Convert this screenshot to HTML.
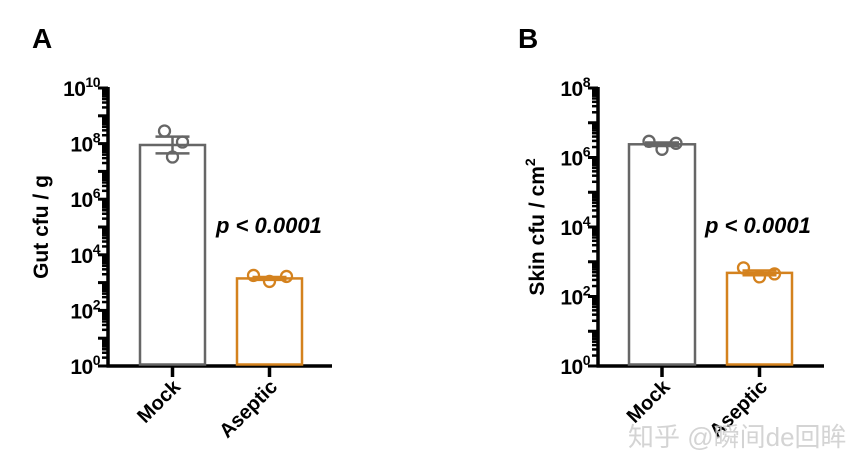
<!DOCTYPE html>
<html><head><meta charset="utf-8"><style>
html,body{margin:0;padding:0;background:#fff;}
svg{display:block;font-family:"Liberation Sans",Arial,sans-serif;}
</style></head><body>
<svg id="s" width="865" height="468" viewBox="0 0 865 468" xmlns="http://www.w3.org/2000/svg">
<text x="32" y="48" font-size="28" font-weight="bold">A</text>
<text x="518" y="48" font-size="28" font-weight="bold">B</text>
<g id="A"></g><g id="B"></g>
<text x="628" y="446" font-size="26" fill="#ccc" fill-opacity="0.85" font-family="'Liberation Sans','Noto Sans CJK SC',sans-serif">知乎 @瞬间de回眸</text>
</svg>
<script>
const NS="http://www.w3.org/2000/svg";
function el(p,t,a,txt){const e=document.createElementNS(NS,t);for(const k in a)e.setAttribute(k,a[k]);if(txt!==undefined)e.textContent=txt;p.appendChild(e);return e;}
function panel(g,ax,top,bot,nd,step,xEnd,title,tx,bars,pLab){
  const dec=(bot-top)/nd;
  el(g,'line',{x1:ax,y1:top-1,x2:ax,y2:bot+1.5,stroke:'#000','stroke-width':3.5});
  el(g,'line',{x1:ax-1.5,y1:bot,x2:xEnd,y2:bot,stroke:'#000','stroke-width':3.5});
  for(let d=0;d<nd;d++){
    const y0=bot-d*dec;
    for(let k=2;k<=9;k++){const y=y0-Math.log10(k)*dec;el(g,'line',{x1:ax-6,y1:y,x2:ax,y2:y,stroke:'#000','stroke-width':2.5});}
  }
  for(let d=0;d<=nd;d++){
    const y=bot-d*dec;
    el(g,'line',{x1:ax-10,y1:y,x2:ax,y2:y,stroke:'#000','stroke-width':3});
    if(d%step===0){
      const t=el(g,'text',{x:ax-8,y:y+8,'text-anchor':'end','font-size':21,'font-weight':'bold','letter-spacing':'-0.5'});
      el(t,'tspan',{},'10');
      el(t,'tspan',{dy:-9,'font-size':14},String(d));
    }
  }
  const ty=(top+bot)/2;
  const t=el(g,'text',{x:tx,y:ty,transform:`rotate(-90 ${tx} ${ty})`,'text-anchor':'middle','font-size':21,'font-weight':'bold'},'');
  el(t,'tspan',{},title[0]); if(title[1]){el(t,'tspan',{dy:-9,'font-size':14},title[1]);}
  bars.forEach(b=>{
    const yb=bot-b.v*dec;
    el(g,'rect',{x:b.x1,y:yb,width:b.x2-b.x1,height:bot-yb-1.5,fill:'#fff',stroke:b.c,'stroke-width':2.5});
    const cx=(b.x1+b.x2)/2;
    el(g,'line',{x1:cx,y1:bot,x2:cx,y2:bot+11,stroke:'#000','stroke-width':3.5});
    const eh=b.e*dec;
    el(g,'line',{x1:cx,y1:yb-eh,x2:cx,y2:yb+eh,stroke:b.c,'stroke-width':2.5});
    el(g,'line',{x1:cx-17,y1:yb-eh,x2:cx+17,y2:yb-eh,stroke:b.c,'stroke-width':2.5});
    el(g,'line',{x1:cx-17,y1:yb+eh,x2:cx+17,y2:yb+eh,stroke:b.c,'stroke-width':2.5});
    b.pts.forEach(p=>el(g,'circle',{cx:cx+p[0],cy:yb+p[1],r:5.5,fill:'none',stroke:b.c,'stroke-width':2.3}));
    const lx=cx+4,ly=bot+17;
    el(g,'text',{x:lx,y:ly+7,transform:`rotate(-45 ${lx} ${ly})`,'text-anchor':'end','font-size':20,'font-weight':'bold'},b.l);
  });
  el(g,'text',{x:pLab[0],y:pLab[1],'font-size':22,'font-weight':'bold','font-style':'italic'},'p < 0.0001');
}
const G='#666',O='#d4821e';
panel(document.getElementById('A'),108,88,366,10,2,332,['Gut cfu / g'],48,
 [{x1:140,x2:205,v:7.95,e:0.3,c:G,l:'Mock',pts:[[-8,-14],[10,-3],[0,12]]},
  {x1:237,x2:302,v:3.15,e:0.05,c:O,l:'Aseptic',pts:[[-16,-3],[17,-2],[0,3]]}],[216,233]);
panel(document.getElementById('B'),598,88,366,8,2,824,['Skin cfu / cm','2'],544,
 [{x1:629,x2:695,v:6.38,e:0.05,c:G,l:'Mock',pts:[[-13,-3],[14,-1],[0,5]]},
  {x1:727,x2:792,v:2.68,e:0.07,c:O,l:'Aseptic',pts:[[-16,-5],[15,1],[0,4]]}],[705,233]);
</script>
</body></html>
